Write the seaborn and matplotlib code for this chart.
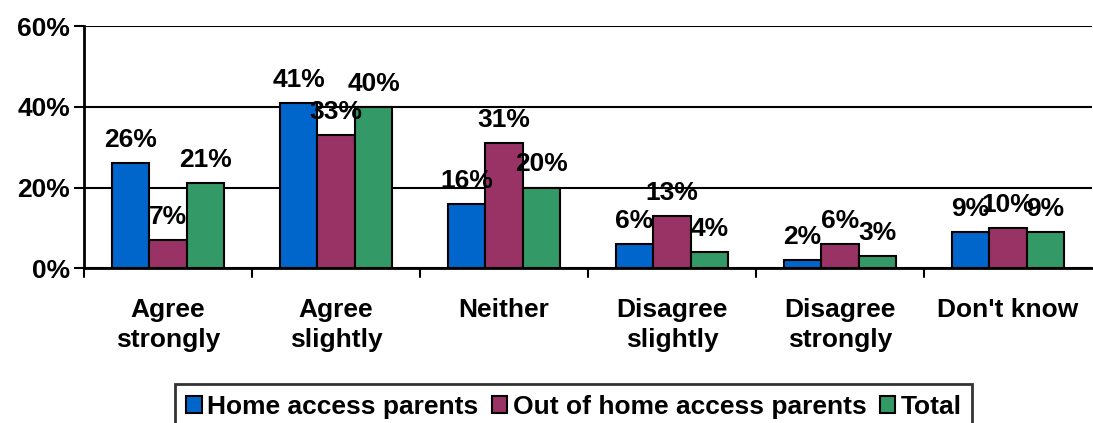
import matplotlib
matplotlib.use("Agg")
import matplotlib.pyplot as plt
import pandas as pd
import seaborn as sns
from matplotlib.ticker import FuncFormatter

categories = ["Agree\nstrongly", "Agree\nslightly", "Neither", "Disagree\nslightly",
              "Disagree\nstrongly", "Don't know"]
series = ["Home access parents", "Out of home access parents", "Total"]
home_access = [26, 41, 16, 6, 2, 9]
out_of_home = [7, 33, 31, 13, 6, 10]
total = [21, 40, 20, 4, 3, 9]
colors = ["#0066CC", "#993366", "#339966"]

rows = []
for name, vals in zip(series, [home_access, out_of_home, total]):
    for c, v in zip(categories, vals):
        rows.append({"category": c, "series": name, "value": v})
df = pd.DataFrame(rows)

sns.set_style("white")
plt.rcParams["font.family"] = ["Liberation Sans", "DejaVu Sans"]
plt.rcParams["font.weight"] = "bold"
plt.rcParams["text.color"] = "black"
plt.rcParams["xtick.color"] = "black"
plt.rcParams["ytick.color"] = "black"
FS = 19

fig = plt.figure(figsize=(10.93, 4.23), dpi=100)
ax = fig.add_axes([0.077, 0.366, 0.922, 0.572])

sns.barplot(data=df, x="category", y="value", hue="series", palette=colors,
            saturation=1, width=0.67, edgecolor="black", linewidth=1.5, gap=0,
            ax=ax, legend=False)

for cont in ax.containers:
    ax.bar_label(cont, fmt="%d%%", padding=8, fontsize=FS, fontweight="bold",
                 color="black")

ax.set_ylim(0, 60)
ax.set_xlim(-0.5, len(categories) - 0.5)
ax.set_yticks([0, 20, 40, 60])
ax.yaxis.set_major_formatter(FuncFormatter(lambda v, p: f"{v:.0f}%"))
ax.yaxis.grid(True, color="black", linewidth=1.5)
ax.set_axisbelow(True)
for s in ["top", "right"]:
    ax.spines[s].set_visible(False)
for s in ["left", "bottom"]:
    ax.spines[s].set_color("black")
    ax.spines[s].set_linewidth(2)

ax.set_xlabel("")
ax.set_ylabel("")
ax.tick_params(axis="y", left=True, length=7, width=1.5, labelsize=FS, pad=3,
               labelcolor="black")
ax.set_xticks(range(len(categories)))
ax.set_xticklabels(categories, fontsize=FS, fontweight="bold", linespacing=1.3)
ax.tick_params(axis="x", bottom=False, labelsize=FS, pad=18, labelcolor="black")
for b in [i + 0.5 for i in range(-1, len(categories) - 1)]:
    ax.plot([b, b], [0, -2.2], color="black", lw=1.5, clip_on=False)

handles = [plt.Rectangle((0, 0), 1, 1, facecolor=c, edgecolor="black", lw=1.5)
           for c in colors]
leg = fig.legend(handles, series, loc="lower center", bbox_to_anchor=(0.525, -0.015),
                 ncol=3, frameon=True, fancybox=False, edgecolor="black",
                 fontsize=FS, handlelength=0.6, handleheight=0.6, handletextpad=0.2,
                 columnspacing=0.5, borderpad=0.4, borderaxespad=0)
leg.get_frame().set_linewidth(2)
for t in leg.get_texts():
    t.set_fontweight("bold")
    t.set_color("black")

fig.savefig("out.png", dpi=100)
